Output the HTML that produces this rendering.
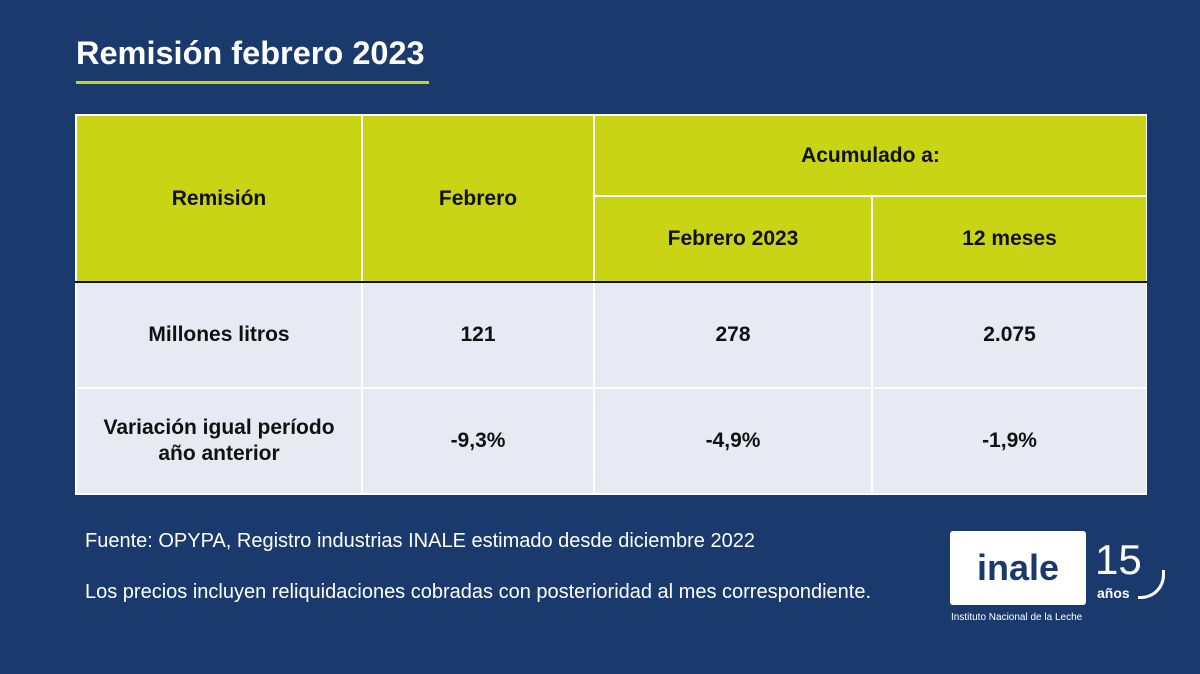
<!DOCTYPE html>
<html><head><meta charset="utf-8"><style>
body{margin:0;width:1200px;height:674px;background:#1a3a6e;position:relative;overflow:hidden;font-family:"Liberation Sans",Arial,sans-serif}
.t{position:absolute;left:76px;top:33px;color:#fff;font-weight:bold;font-size:32.5px;line-height:40px}
.ul{position:absolute;left:76px;top:81px;width:353px;height:3px;background:#c8d414}
.c{position:absolute;box-sizing:border-box;display:flex;align-items:center;justify-content:center;text-align:center;font-weight:bold;font-size:21px;color:#111;line-height:26px}
.h{background:#c8d414}
.d{background:#e8eaf3}
.n{position:absolute;color:#fff;font-size:20px}
</style></head><body>
<div class="t">Remisión febrero 2023</div>
<div class="ul"></div>
<div style="position:absolute;left:75px;top:114px;width:1072px;height:381px;background:#fff"></div>
<div class="c h" style="left:77px;top:116px;width:284px;height:165px">Remisión</div>
<div class="c h" style="left:363px;top:116px;width:230px;height:165px">Febrero</div>
<div class="c h" style="left:595px;top:116px;width:551px;height:79px">Acumulado a:</div>
<div class="c h" style="left:595px;top:197px;width:276px;height:84px">Febrero 2023</div>
<div class="c h" style="left:873px;top:197px;width:273px;height:84px">12 meses</div>
<div style="position:absolute;left:75px;top:281px;width:1072px;height:2px;background:#111"></div>
<div class="c d" style="left:77px;top:283px;width:284px;height:104px">Millones litros</div>
<div class="c d" style="left:363px;top:283px;width:230px;height:104px">121</div>
<div class="c d" style="left:595px;top:283px;width:276px;height:104px">278</div>
<div class="c d" style="left:873px;top:283px;width:273px;height:104px">2.075</div>
<div class="c d" style="left:77px;top:389px;width:284px;height:104px">Variación igual período<br>año anterior</div>
<div class="c d" style="left:363px;top:389px;width:230px;height:104px">-9,3%</div>
<div class="c d" style="left:595px;top:389px;width:276px;height:104px">-4,9%</div>
<div class="c d" style="left:873px;top:389px;width:273px;height:104px">-1,9%</div>
<div class="n" style="left:85px;top:530px">Fuente: OPYPA, Registro industrias INALE estimado desde diciembre 2022</div>
<div class="n" style="left:85px;top:581px">Los precios incluyen reliquidaciones cobradas con posterioridad al mes correspondiente.</div>
<div style="position:absolute;left:950px;top:531px;width:136px;height:74px;background:#fff;border-radius:3px;color:#1a3a6e;font-weight:bold;font-size:36px;display:flex;align-items:center;justify-content:center">inale</div>
<div style="position:absolute;left:1095px;top:540px;color:#fff;font-size:42px;line-height:40px">15</div>
<div style="position:absolute;left:1097px;top:585px;color:#fff;font-size:14px;font-weight:bold">años</div>
<div style="position:absolute;left:1138px;top:570px;width:24px;height:26px;border-right:3px solid #fff;border-bottom:3px solid #fff;border-radius:0 0 24px 0"></div>
<div style="position:absolute;left:951px;top:612px;color:#fff;font-size:10px">Instituto Nacional de la Leche</div>
</body></html>
